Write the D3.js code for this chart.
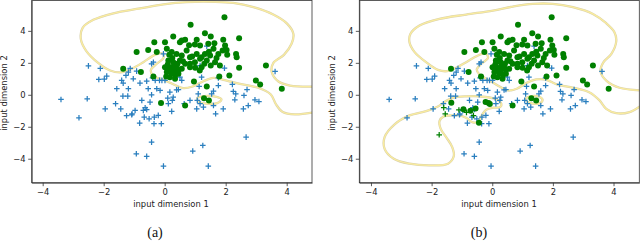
<!DOCTYPE html>
<html>
<head>
<meta charset="utf-8">
<script src="https://cdn.jsdelivr.net/npm/d3@7"></script>
<style>
  body { margin: 0; background: #fff; }
  svg { display: block; }
  .tick text { font-family: "DejaVu Sans", sans-serif; font-size: 8.4px; fill: #222; }
  .tick line, .domain { stroke: #333; stroke-width: 0.8; }
</style>
</head>
<body>
<svg width="640" height="242"></svg>
<script>
// class 0 samples (blue crosses)
const bluePts = [
  [-3.40,-0.29],[-2.81,-1.44],[-2.54,-0.25],[-2.50,1.81],[-2.16,0.96],[-2.11,1.65],[-1.98,0.98],[-1.90,1.17],
  [-1.95,-0.88],[-1.57,0.38],[-1.61,-0.56],[-1.44,-0.88],[-1.41,0.90],[-1.36,0.73],[-1.37,-0.08],[-1.21,-0.08],
  [-1.25,-1.31],[-1.27,1.21],[-1.19,1.42],[-1.13,1.65],[-1.03,1.00],[-1.07,-1.19],[-0.97,-0.98],[-1.19,0.38],
  [-0.92,1.48],[-0.81,0.73],[-0.82,-1.77],[-0.75,-0.35],[-0.70,-0.98],[-0.64,-0.81],[-0.67,-1.40],[-0.59,0.85],
  [-0.54,0.38],[-0.51,-1.50],[-0.48,-0.46],[-0.43,1.94],[-0.37,2.04],[-0.40,1.06],[-0.35,-1.81],[-0.34,-1.40],
  [-0.31,0.90],[-0.26,0.38],[-0.21,-1.29],[-0.17,0.90],[-0.15,0.27],[-0.11,-1.81],[-0.09,0.90],[-0.04,2.56],
  [0.01,0.90],[0.10,-0.21],[0.17,0.17],[0.23,-1.04],[0.25,-0.35],[0.28,-0.15],[0.39,0.31],[0.50,1.10],
  [0.56,0.90],[0.64,-0.56],[-0.43,-2.96],[-0.93,-3.69],[-0.59,-3.85],[-0.04,-4.46],[0.92,-3.52],[1.25,-3.17],
  [1.43,-4.46],[2.67,-2.65],[0.83,-0.35],[1.07,-0.35],[1.10,0.06],[1.16,-0.56],[1.05,-0.88],[1.27,-0.77],
  [1.13,0.52],[1.16,1.83],[1.21,1.10],[1.38,3.04],[1.60,0.23],[1.60,-0.67],[1.67,-1.19],[1.76,1.06],
  [1.76,0.58],[1.92,-0.88],[1.96,1.67],[2.22,0.65],[2.25,0.21],[2.30,-0.31],[2.33,0.06],[2.58,-0.88],
  [2.60,-0.04],[2.70,0.33],[2.74,-0.67],[2.96,-0.31],[3.09,-0.42],[3.62,1.46],[-0.43,0.00],[-1.08,-1.25],
  [-0.59,-0.92],[0.12,-0.56],[0.45,0.33],[1.54,0.06]
];

// class 1 samples (green dots)
const greenPts = [
  [1.96,4.85],[0.85,4.38],[1.32,3.85],[1.51,3.65],[0.28,3.65],[0.67,3.44],[1.05,3.44],[1.92,3.44],
  [2.44,3.54],[-0.34,3.29],[0.01,3.29],[0.50,3.29],[0.56,3.40],[0.99,3.15],[1.16,3.08],[1.43,3.19],
  [1.63,3.23],[1.98,3.08],[2.03,2.81],[-0.92,2.67],[-0.54,2.81],[-0.26,2.67],[0.07,2.88],[0.23,2.67],
  [0.39,2.56],[0.56,2.46],[0.72,2.77],[0.83,2.35],[1.05,2.56],[1.21,2.35],[1.32,2.56],[1.49,2.46],
  [1.60,2.88],[1.76,2.56],[1.90,2.77],[2.34,2.56],[2.36,2.35],[0.12,2.15],[0.28,2.04],[0.50,2.15],
  [0.67,1.94],[0.83,1.94],[0.99,2.04],[1.16,2.25],[1.38,2.15],[1.51,1.83],[1.65,2.04],[1.81,1.83],
  [0.14,1.73],[0.28,1.52],[0.39,1.73],[0.07,1.42],[0.23,1.31],[0.45,1.31],[0.17,1.10],[0.34,1.00],
  [0.01,1.73],[0.56,1.63],[1.15,1.52],[1.21,1.73],[0.83,1.73],[2.44,1.69],[1.79,1.15],[2.12,1.21],
  [0.96,0.83],[1.38,0.52],[2.99,0.90],[3.13,0.65],[3.32,1.83],[3.84,0.38],[-1.36,1.63],[-0.78,1.42],
  [-0.12,-0.52],[0.67,-0.67],[1.29,-0.21],[1.45,-0.35],[-0.37,1.15],[0.42,1.94],[0.10,1.90],[0.30,1.80],
  [0.20,1.60],[0.45,1.55],[0.05,1.15],[0.35,1.25],[0.25,2.30],[0.60,2.10],[0.90,2.40],[1.30,1.95],
  [1.00,1.70],[1.45,2.70],[0.80,3.10],[0.15,2.50],[1.70,2.30],[2.05,2.50]
];

// extra flipped samples shown only in (b)
const flippedDotsB = [[-1.35,-0.50],[-0.95,-0.90],[-0.72,-1.00],[-0.55,-0.85],[-0.22,-0.45],[-0.08,-0.58],[-0.44,-1.75]];
const flippedCrossB = [[-1.60,-0.80],[-1.55,-1.20],[-1.75,-2.50],[-0.85,-1.10],[-0.62,-1.30],[-1.10,-0.95]];

// decision boundaries
const boundaryA = [
  [4.95,0.52],[4.11,0.58],[3.73,0.83],[3.51,1.42],[3.56,1.98],[3.91,2.50],[4.16,3.19],[4.22,3.81],
  [4.02,4.44],[3.56,5.02],[2.91,5.48],[2.25,5.75],[1.60,5.82],[0.72,5.80],[-0.04,5.66],[-0.81,5.40],
  [-1.68,5.10],[-2.34,4.69],[-2.69,4.19],[-2.75,3.50],[-2.58,2.77],[-2.17,1.98],[-1.79,1.52],[-1.44,1.40],
  [-1.08,1.63],[-0.70,2.04],[-0.32,2.50],[-0.07,2.58],[-0.04,2.31],[-0.26,1.94],[-0.45,1.56],[-0.39,1.21],
  [-0.04,0.94],[0.28,0.66],[0.60,0.42],[0.92,0.52],[1.27,0.85],[1.60,1.06],[1.92,0.94],[2.47,0.69],
  [3.07,0.44],[3.48,0.02],[3.65,-0.60],[3.87,-1.08],[4.27,-1.23],[4.95,-1.08]
];
const loopA = [[1.07,-0.20],[1.30,-0.08],[1.62,-0.10],[1.86,-0.28],[1.72,-0.52],[1.40,-0.56],[1.12,-0.42]];

const boundaryB = [
  [4.95,0.27],[4.20,0.44],[3.78,0.85],[3.57,1.48],[3.67,2.04],[3.93,2.56],[4.09,3.35],[4.03,3.92],
  [3.76,4.48],[3.32,5.06],[2.66,5.48],[2.00,5.69],[1.34,5.69],[0.68,5.52],[0.02,5.27],[-0.86,5.02],
  [-1.74,4.75],[-2.40,4.33],[-2.70,3.81],[-2.73,3.29],[-2.56,2.67],[-2.18,2.04],[-1.79,1.56],[-1.49,1.48],
  [-1.19,1.69],[-0.86,2.04],[-0.47,2.46],[-0.22,2.60],[-0.14,2.31],[-0.36,1.94],[-0.51,1.58],[-0.42,1.27],
  [-0.09,0.90],[0.24,0.52],[0.52,0.27],[0.81,0.38],[1.12,0.73],[1.45,0.96],[1.78,0.94],[2.13,0.65],
  [2.68,0.44],[3.21,0.15],[3.54,-0.35],[3.76,-0.88],[4.09,-1.15],[4.53,-1.08],[4.95,-0.62]
];
const loopB = [[1.12,-0.22],[1.30,-0.08],[1.55,-0.12],[1.66,-0.32],[1.55,-0.54],[1.30,-0.54],[1.14,-0.40]];
const lowerLoopB = [
  [0.30,-0.56],[0.08,-0.25],[-0.42,-0.10],[-0.86,-0.10],[-1.30,-0.19],[-1.54,-0.40],[-1.79,-0.73],[-2.18,-1.02],
  [-2.73,-1.29],[-3.22,-1.85],[-3.55,-2.65],[-3.55,-3.38],[-3.25,-4.00],[-2.73,-4.31],[-2.07,-4.42],[-1.46,-4.31],
  [-1.27,-3.85],[-1.32,-3.27],[-1.52,-2.65],[-1.70,-2.13],[-1.74,-1.65],[-1.60,-1.35],[-1.35,-1.29],[-1.10,-1.29],
  [-0.86,-1.44],[-0.64,-1.73],[-0.44,-1.65],[-0.33,-1.23],[-0.20,-0.94],[0.04,-0.81],[0.26,-0.77]
];

const xTicks = [-4, -2, 0, 2, 4];
const yTicks = [-4, -2, 0, 2, 4];
const yDomain = [-5.5, 5.9];

const panels = [
  {id: "a", left: 31.7, right: 312, xDomain: [-4.36, 4.83], open: [boundaryA], closed: [loopA],
   extraDots: [], extraCross: [], xLabelX: 171, yLabelX: 7, capX: 155},
  {id: "b", left: 359.3, right: 639.3, xDomain: [-4.385, 4.85], open: [boundaryB], closed: [loopB, lowerLoopB],
   extraDots: flippedDotsB, extraCross: flippedCrossB, xLabelX: 499, yLabelX: 335, capX: 479}
];

const plotTop = 0.5, plotBottom = 182.7;
const svg = d3.select("svg");
const minus = d => d3.format("d")(d).replace("-", "\u2212");

panels.forEach((p, i) => {
  const x = d3.scaleLinear().domain(p.xDomain).range([p.left, p.right]);
  const y = d3.scaleLinear().domain(yDomain).range([plotBottom, plotTop]);
  const g = svg.append("g");

  g.append("clipPath").attr("id", "clip" + i)
    .append("rect")
    .attr("x", p.left).attr("y", plotTop)
    .attr("width", p.right - p.left).attr("height", plotBottom - plotTop);

  const plot = g.append("g").attr("clip-path", "url(#clip" + i + ")");

  const openLine = d3.line().x(d => x(d[0])).y(d => y(d[1])).curve(d3.curveCatmullRom);
  const closedLine = d3.line().x(d => x(d[0])).y(d => y(d[1])).curve(d3.curveCatmullRomClosed);

  // boundary: faint rim under a pale yellow core
  const curves = p.open.map(c => openLine(c)).concat(p.closed.map(c => closedLine(c)));
  [["#d9d1ad", 2.3], ["#faec9e", 1.3]].forEach(([col, w]) => {
    plot.selectAll(null).data(curves).enter().append("path")
      .attr("d", d => d)
      .attr("fill", "none")
      .attr("stroke", col)
      .attr("stroke-width", w);
  });

  const cross = (sel, pts, col) => {
    sel.selectAll(null).data(pts).enter().append("path")
      .attr("d", d => {
        const cx = x(d[0]), cy = y(d[1]), s = 2.8;
        return "M" + (cx - s) + "," + cy + "H" + (cx + s) + "M" + cx + "," + (cy - s) + "V" + (cy + s);
      })
      .attr("stroke", col)
      .attr("stroke-width", 1.25)
      .attr("fill", "none");
  };

  cross(plot, bluePts, "#2a7fbf");

  plot.selectAll(null).data(greenPts.concat(p.extraDots)).enter().append("circle")
    .attr("cx", d => x(d[0]))
    .attr("cy", d => y(d[1]))
    .attr("r", 3)
    .attr("fill", "#008000");

  cross(plot, p.extraCross, "#008000");

  // axes
  g.append("g")
    .attr("transform", "translate(0," + plotBottom + ")")
    .call(d3.axisBottom(x).tickValues(xTicks).tickFormat(minus).tickSize(3.5).tickPadding(2.5).tickSizeOuter(0));
  g.append("g")
    .attr("transform", "translate(" + p.left + ",0)")
    .call(d3.axisLeft(y).tickValues(yTicks).tickFormat(minus).tickSize(3.5).tickPadding(2.5).tickSizeOuter(0));

  // box
  g.append("rect")
    .attr("x", p.left).attr("y", plotTop)
    .attr("width", p.right - p.left).attr("height", plotBottom - plotTop)
    .attr("fill", "none").attr("stroke", "#333").attr("stroke-width", 0.8);

  g.append("text")
    .attr("x", p.xLabelX).attr("y", 207)
    .attr("text-anchor", "middle")
    .style("font-family", "DejaVu Sans, sans-serif").style("font-size", "8.4px").style("fill", "#222")
    .text("input dimension 1");

  g.append("text")
    .attr("transform", "translate(" + p.yLabelX + ",93) rotate(-90)")
    .attr("text-anchor", "middle")
    .style("font-family", "DejaVu Sans, sans-serif").style("font-size", "8.4px").style("fill", "#222")
    .text("input dimension 2");

  g.append("text")
    .attr("x", p.capX).attr("y", 237)
    .attr("text-anchor", "middle")
    .style("font-family", "Liberation Serif, serif").style("font-size", "14px").style("fill", "#111")
    .text("(" + p.id + ")");
});
</script>
</body>
</html>
